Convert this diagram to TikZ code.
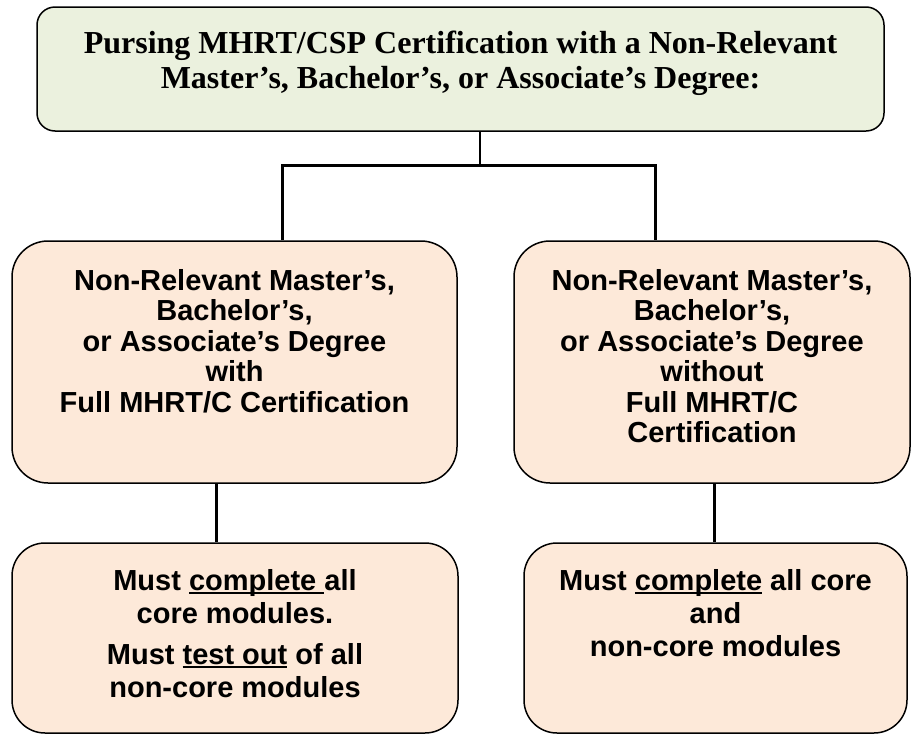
\documentclass[tikz,border=0pt]{standalone}
\usepackage{fontspec}
\setmainfont{Liberation Serif}
\newfontfamily\boxfont{Liberation Sans}
\usetikzlibrary{positioning}

\definecolor{headgreen}{HTML}{EBF1DE}
\definecolor{boxpeach}{HTML}{FDE9D9}

\newlength{\ulwd}
\newcommand{\ulword}[1]{\settowidth{\ulwd}{#1}\makebox[0pt][l]{\rule[-4pt]{\ulwd}{2pt}}#1}

\begin{document}
\begin{tikzpicture}[
            x=1pt, y=-1pt,
            box/.style = {
                draw, line width=1.5pt,
                rounded corners=#1,
                fill=boxpeach, inner sep=0pt
            },
            box/.default = 36pt,
            headtext/.style = {
                align=center, inner sep=0pt,
                font={\bfseries\fontsize{32}{35}\selectfont}
            },
            boxtext/.style = {
                align=center, inner sep=0pt,
                font={\boxfont\bfseries\fontsize{29}{30.5}\selectfont}
            },
            link/.style = {
                line width=3pt
            }
            ]
            \useasboundingbox (0,0) rectangle (913,734);

            % Boxes
            \node[box=18pt, fill=headgreen, minimum width=847pt, minimum height=124pt] (top) at (460.5,69) {};
            \node[box, minimum width=445pt, minimum height=242pt] (withC) at (234.5,362) {};
            \node[box, minimum width=396pt, minimum height=242pt] (withoutC) at (712,362) {};
            \node[box=33pt, minimum width=446pt, minimum height=190pt] (compL) at (235,638) {};
            \node[box=33pt, minimum width=383pt, minimum height=190pt] (compR) at (715.5,638) {};

            % Texts
            \node[headtext, below=25pt of top.north] (topText)
                {Pursing MHRT/CSP Certification with a Non-Relevant\\
                 Master’s, Bachelor’s, or Associate’s Degree:};
            \node[boxtext, below=29pt of withC.north] (withText)
                {Non-Relevant Master’s,\\ Bachelor’s,\\ or Associate’s Degree\\ with\\ Full MHRT/C Certification};
            \node[boxtext, below=29pt of withoutC.north] (withoutText)
                {Non-Relevant Master’s,\\ Bachelor’s,\\ or Associate’s Degree\\ without\\ Full MHRT/C\\ Certification};
            \node[boxtext, below=27pt of compL.north, font={\boxfont\bfseries\fontsize{29}{33}\selectfont}] (compLText)
                {Must \ulword{complete }all\\ core modules.\\[8pt] Must \ulword{test out} of all\\ non-core modules};
            \node[boxtext, below=27pt of compR.north, font={\boxfont\bfseries\fontsize{29}{33}\selectfont}] (compRText)
                {Must \ulword{complete} all core\\ and\\ non-core modules};

            % Connectors
            \coordinate (fork) at (480,165);
            \coordinate (barL) at (282,165);
            \coordinate (barR) at (655,165);
            \coordinate (dropL) at (216,513);
            \coordinate (dropR) at (714,513);

            \draw[link, line width=2pt] (top.south -| fork) -- (fork);
            \draw[link] (barL |- withC.north) -- (barL) -- (barR) -- (barR |- withoutC.north);
            \draw[link] (dropL |- withC.south) -- (dropL |- compL.north);
            \draw[link] (dropR |- withoutC.south) -- (dropR |- compR.north);
        \end{tikzpicture}
\end{document}
